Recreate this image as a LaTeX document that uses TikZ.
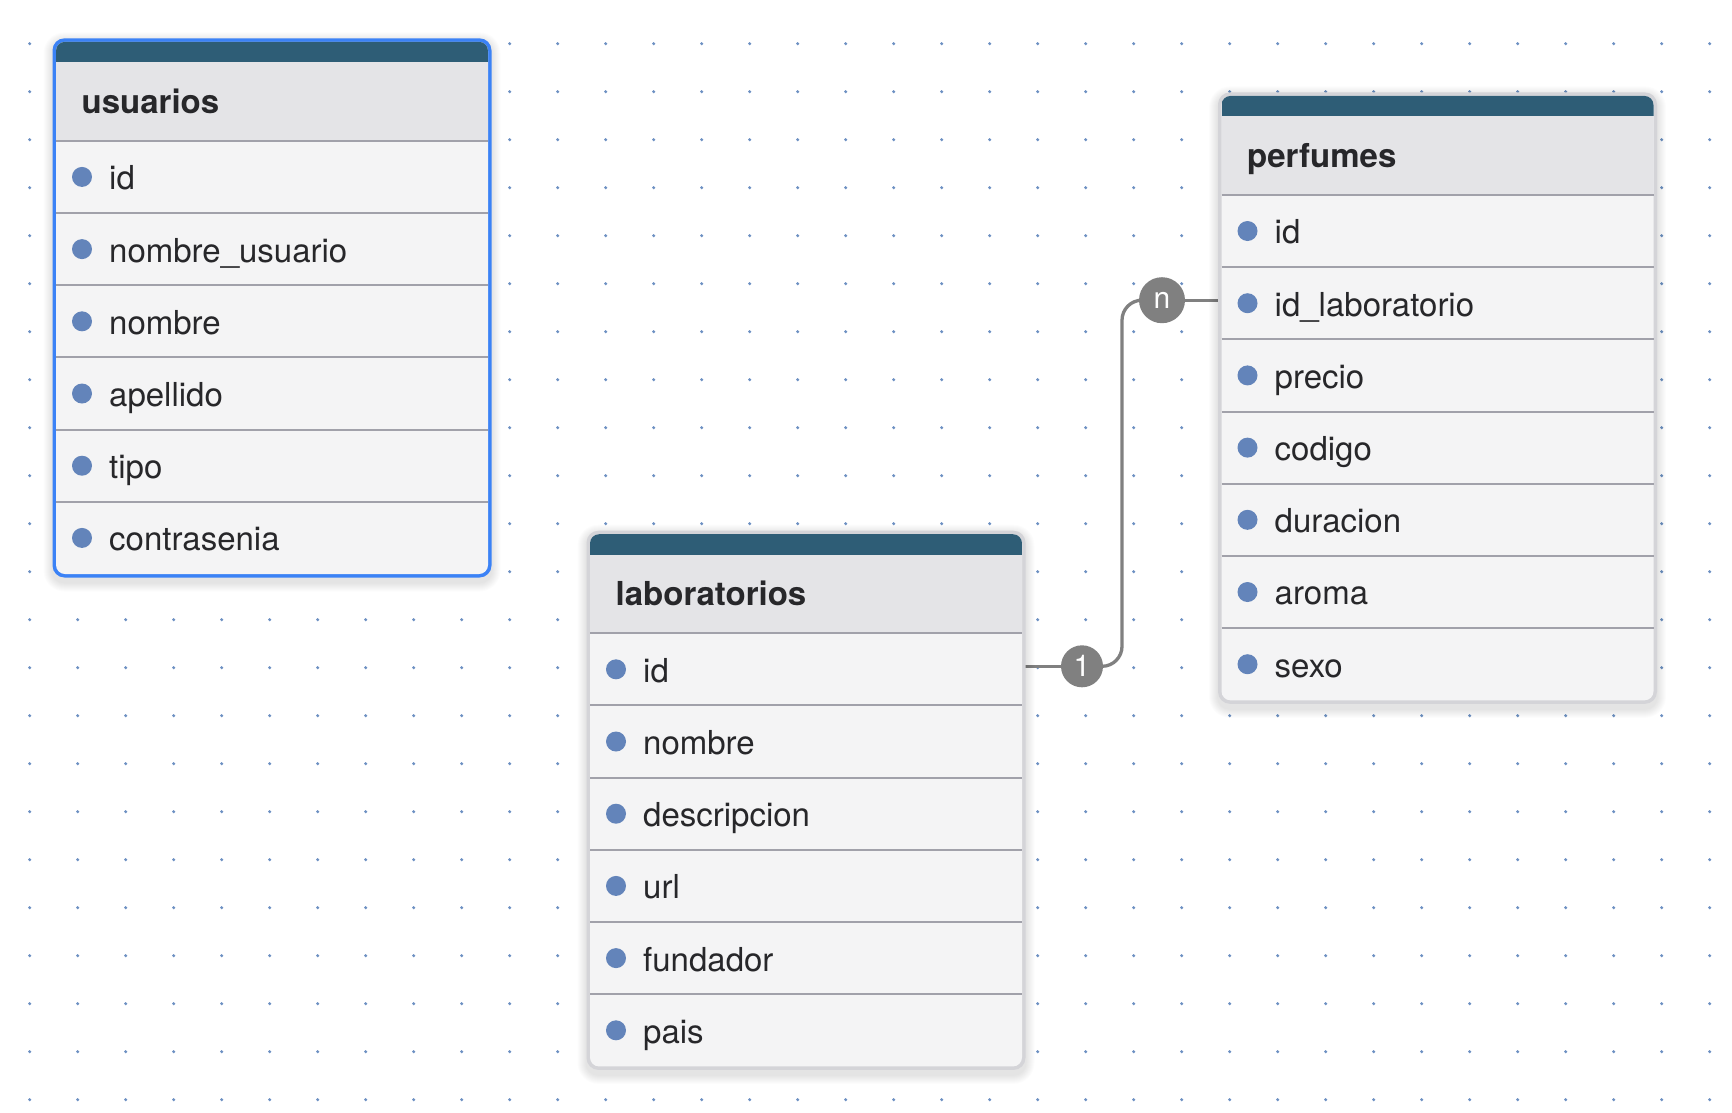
\documentclass[tikz,border=0pt]{standalone}
\usepackage{fontspec}
\setmainfont{TeX Gyre Heros}
\usetikzlibrary{calc}
\definecolor{band}{RGB}{46,93,118}
\definecolor{titlefill}{RGB}{228,228,231}
\definecolor{rowfill}{RGB}{244,244,245}
\definecolor{sepc}{RGB}{161,161,170}
\definecolor{bordergray}{RGB}{212,212,216}
\definecolor{borderblue}{RGB}{59,130,246}
\definecolor{bulletc}{RGB}{99,132,186}
\definecolor{txt}{RGB}{39,39,42}
\definecolor{gridc}{RGB}{110,145,195}
\definecolor{connc}{RGB}{128,128,128}
\pgfdeclarelayer{bg}\pgfdeclarelayer{lines}\pgfsetlayers{bg,lines,main}
\tikzset{
  titletext/.style={font=\bfseries\fontsize{33}{39}\selectfont, text=txt, inner sep=0pt},
  fieldtext/.style={font=\fontsize{33}{39}\selectfont, text=txt, inner sep=0pt},
  rowbox/.style={rectangle, minimum width=432pt, minimum height=72.2pt, inner sep=0pt, outer sep=0pt},
  sepline/.style={draw=sepc, line width=2pt},
  conn/.style={draw=connc, line width=3.3pt},
  card/.style={circle, fill=connc, minimum size=44pt, inner sep=0pt, text=white, font=\fontsize{30}{30}\selectfont},
}
% #1 id, #2 inner left, #3 outer top, #4 rows, #5 border colour, #6 title, #7 fields
\newcommand{\ertable}[7]{%
  \pgfmathsetmacro{\tR}{#2+432}%
  \pgfmathsetmacro{\tB}{#3+102.5+#4*72.2}%
  \foreach \k in {1,...,9}{%
    \fill[black, opacity=0.011, rounded corners=12pt+\k pt] (#2-3.5-\k, #3+3-\k) rectangle (\tR+3.5+\k, \tB+3.5+5+\k);
  }
  \fill[#5, rounded corners=12pt] (#2-3.5, #3) rectangle (\tR+3.5, \tB+3.5);
  \fill[rowfill, rounded corners=9pt] (#2, #3+3.5) rectangle (\tR, \tB);
  \begin{scope}
    \clip[rounded corners=9pt] (#2, #3+3.5) rectangle (\tR, \tB);
    \fill[band] (#2, #3) rectangle (\tR, #3+24);
    \fill[titlefill] (#2, #3+24) rectangle (\tR, #3+102.5);
  \end{scope}
  \node[titletext, anchor=base west] (#1-title) at (#2+25.5, #3+74.8) {#6};
  \foreach \fid/\flabel [count=\i from 0] in {#7}{%
    \pgfmathsetmacro{\ry}{#3+102.5+\i*72.2}
    \draw[sepline] (#2, \ry) -- (\tR, \ry);
    \node[rowbox, anchor=north west] (#1-\fid) at (#2, \ry) {};
    \fill[bulletc] (#2+26, \ry+36.1) circle[radius=10pt];
    \node[fieldtext, anchor=base west] (#1-\fid-label) at (#2+53, \ry+49) {\flabel};
  }
}
\begin{document}
\begin{tikzpicture}[x=1pt, y=-1pt]
\useasboundingbox (0,0) rectangle (1732,1112);
\begin{pgfonlayer}{bg}
  \fill[white] (0,0) rectangle (1732,1112);
  \foreach \i in {0,...,35}{\foreach \j in {0,...,22}{%
    \fill[gridc] (29.7+48*\i, 43.7+48*\j) circle[radius=1.7pt];}}
\end{pgfonlayer}

\ertable{usr}{56}{38.3}{6}{borderblue}{usuarios}{id/id, nombreusuario/nombre\_usuario, nombre/nombre, apellido/apellido, tipo/tipo, contrasenia/contrasenia}
\ertable{lab}{590}{530.7}{6}{bordergray}{laboratorios}{id/id, nombre/nombre, descripcion/descripcion, url/url, fundador/fundador, pais/pais}
\ertable{perf}{1221.5}{92.4}{7}{bordergray}{perfumes}{id/id, idlab/id\_laboratorio, precio/precio, codigo/codigo, duracion/duracion, aroma/aroma, sexo/sexo}

\node[card, minimum size=42pt] (one) at ([xshift=60pt, yshift=3pt]lab-id.east) {1};
\node[card, minimum size=46pt] (many) at ([xshift=-59.5pt, yshift=3pt]perf-idlab.west) {n};

\begin{pgfonlayer}{lines}
  \draw[conn] ([yshift=3pt]lab-id.east) -- (one);
  \draw[conn, rounded corners=20pt] (one) -| ($(one)!.5!(many)$) |- (many);
  \draw[conn] (many) -- ([yshift=3pt]perf-idlab.west);
\end{pgfonlayer}
\end{tikzpicture}
\end{document}
